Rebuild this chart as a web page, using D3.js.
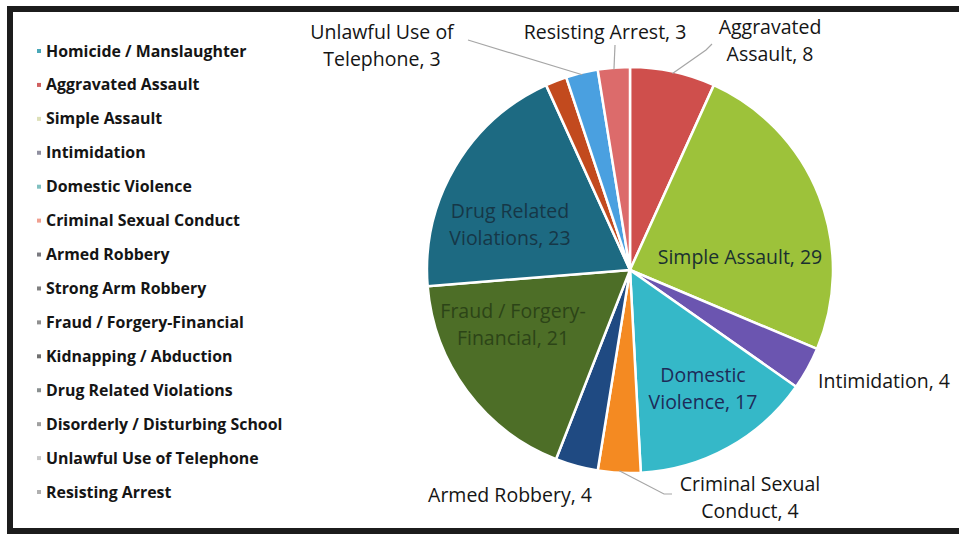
<!DOCTYPE html>
<html>
<head>
<meta charset="utf-8">
<script src="https://cdn.jsdelivr.net/npm/d3@7"></script>
<style>
  html, body { margin: 0; padding: 0; background: #fff; }
  svg { display: block; }
</style>
</head>
<body>
<svg id="chart" width="959" height="538"></svg>
<script>
// ---- data ----
const categories = [
  "Homicide / Manslaughter", "Aggravated Assault", "Simple Assault", "Intimidation",
  "Domestic Violence", "Criminal Sexual Conduct", "Armed Robbery", "Strong Arm Robbery",
  "Fraud / Forgery-Financial", "Kidnapping / Abduction", "Drug Related Violations",
  "Disorderly / Disturbing School", "Unlawful Use of Telephone", "Resisting Arrest"
];
const values = [0, 8, 29, 4, 17, 4, 4, 0, 21, 0, 23, 2, 3, 3];
const colors = [
  "#3ea3b3", "#cf4f4c", "#9dc23a", "#6b55b0",
  "#35b8c8", "#f48a22", "#1f4a82", "#7a7a7a",
  "#4d6e27", "#6a6a6a", "#1d6a82",
  "#c24a1e", "#4aa0e0", "#dc6b6b"
];
const legendMarkerColors = [
  "#4aa8b8", "#d06060", "#dde0b8", "#9090a0",
  "#80c0c0", "#f0a090", "#7a7a80", "#808080",
  "#909090", "#707070", "#8a9090",
  "#a0a0a0", "#c8c8c8", "#b0b0b0"
];
// data label texts (lines) for the shown slices
const labelLines = {
  "Aggravated Assault": ["Aggravated", "Assault, 8"],
  "Simple Assault": ["Simple Assault, 29"],
  "Intimidation": ["Intimidation, 4"],
  "Domestic Violence": ["Domestic", "Violence, 17"],
  "Criminal Sexual Conduct": ["Criminal Sexual", "Conduct, 4"],
  "Armed Robbery": ["Armed Robbery, 4"],
  "Fraud / Forgery-Financial": ["Fraud / Forgery-", "Financial, 21"],
  "Drug Related Violations": ["Drug Related", "Violations, 23"],
  "Unlawful Use of Telephone": ["Unlawful Use of", "Telephone, 3"],
  "Resisting Arrest": ["Resisting Arrest, 3"]
};

// ---- layout ----
const svg = d3.select("#chart");
const cx = 630, cy = 270, R = 203;

// frame
svg.append("rect")
  .attr("x", 10).attr("y", 9).attr("width", 980).attr("height", 522)
  .attr("fill", "none").attr("stroke", "#1c1c1c").attr("stroke-width", 6);

// legend
const legendY = d3.scalePoint().domain(categories).range([51, 492]);
const lg = svg.append("g");
categories.forEach((c, i) => {
  const y = legendY(c);
  lg.append("rect").attr("x", 37).attr("y", y - 2).attr("width", 4).attr("height", 4)
    .attr("fill", legendMarkerColors[i]);
  lg.append("text").attr("x", 46).attr("y", y + 5.5)
    .attr("font-family", "'Open Sans', sans-serif").attr("font-weight", 700)
    .attr("font-size", 15.9).attr("fill", "#151515").text(c);
});

// pie
const data = categories.map((c, i) => ({ name: c, value: values[i], color: colors[i] }));
const pie = d3.pie().value(d => d.value).sort(null);
const arcs = pie(data);
const arc = d3.arc().innerRadius(0).outerRadius(R);
const g = svg.append("g").attr("transform", `translate(${cx},${cy})`);
g.selectAll("path").data(arcs.filter(a => a.data.value > 0)).join("path")
  .attr("d", arc).attr("fill", d => d.data.color)
  .attr("stroke", "#fff").attr("stroke-width", 2.5).attr("stroke-linejoin", "round");

// label placement (layout, relative to chart)
const labelPos = {
  "Aggravated Assault": { x: 770, y: 34, line: [[712, 44], [706, 50]] },
  "Simple Assault": { x: 740, y: 264, color: "#1a3030" },
  "Intimidation": { x: 884, y: 388 },
  "Domestic Violence": { x: 703, y: 382, color: "#1d2b58" },
  "Criminal Sexual Conduct": { x: 750, y: 491, line: [[672, 494], [664, 494]] },
  "Armed Robbery": { x: 510, y: 502 },
  "Fraud / Forgery-Financial": { x: 513, y: 318, color: "#2c4417" },
  "Drug Related Violations": { x: 510, y: 218, color: "#163747" },
  "Unlawful Use of Telephone": { x: 382, y: 39, line: [[468, 40]] },
  "Resisting Arrest": { x: 605, y: 39, line: [[615, 45]] }
};
const lineH = 27;
const labG = svg.append("g");
arcs.forEach(a => {
  const name = a.data.name;
  const p = labelPos[name];
  if (!p) return;
  const lines = labelLines[name];
  if (p.line) {
    const mid = (a.startAngle + a.endAngle) / 2;
    const ex = cx + (R - 2) * Math.sin(mid), ey = cy - (R - 2) * Math.cos(mid);
    const pts = [[ex, ey]].concat(p.line.slice().reverse());
    labG.append("path").attr("d", d3.line()(pts))
      .attr("fill", "none").attr("stroke", "#a6a6a6").attr("stroke-width", 1.2);
  }
  const t = labG.append("text").attr("text-anchor", "middle")
    .attr("font-family", "'Open Sans', sans-serif").attr("font-size", 19.5)
    .attr("fill", p.color || "#151515");
  lines.forEach((ln, i) => {
    t.append("tspan").attr("x", p.x).attr("y", p.y + i * lineH).text(ln);
  });
});
</script>
</body>
</html>
